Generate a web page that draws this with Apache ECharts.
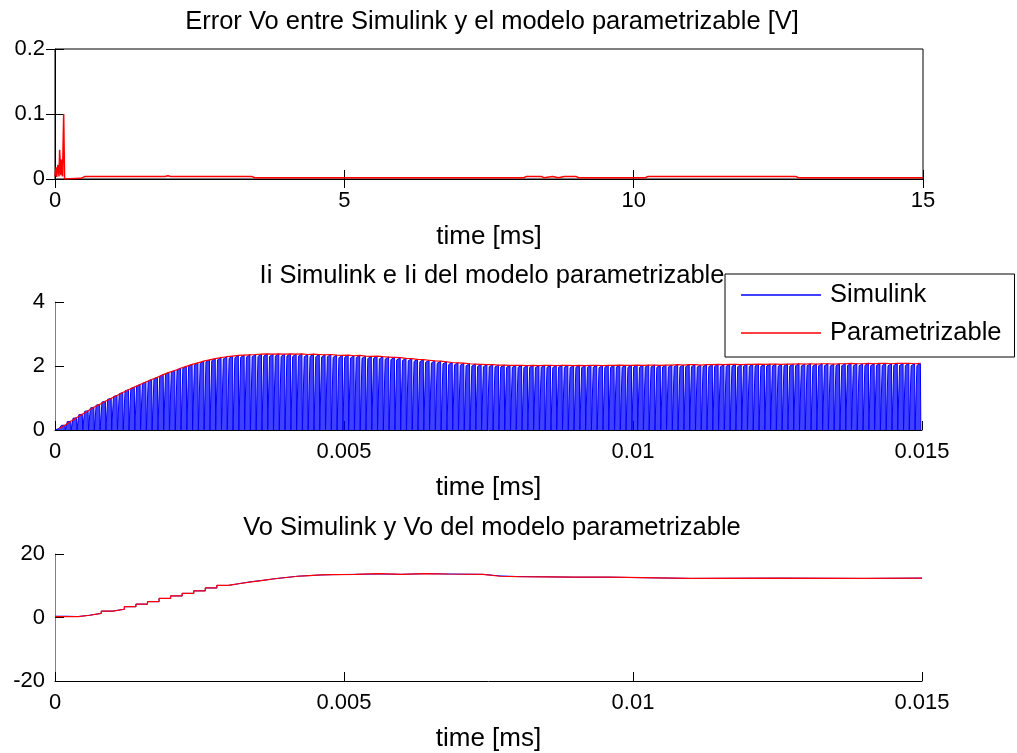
<!DOCTYPE html>
<html>
<head>
<meta charset="utf-8">
<script src="https://cdn.jsdelivr.net/npm/echarts@6/dist/echarts.min.js"></script>
<style>
  html, body { margin: 0; background: #fff; }
  #chart { width: 1017px; height: 753px; }
</style>
</head>
<body>
<div id="chart"></div>
<script>
// --- data ---

// panel 1: error Vo [V] vs time [ms]
const errTime = [0, 0.02, 0.03, 0.05, 0.07, 0.08, 0.10, 0.11, 0.13, 0.15,
  0.165, 0.18, 0.45, 0.52, 1.9, 1.95, 2.0, 3.4, 3.45, 8.1,
  8.15, 8.4, 8.45, 8.6, 8.7, 8.8, 9.0, 9.05, 9.1, 10.2,
  10.25, 12.8, 12.85, 15];
const errValue = [0.005, 0.018, 0.003, 0.022, 0.004, 0.045, 0.006, 0.03, 0.004, 0.1,
  0.0, 0.001, 0.001, 0.004, 0.004, 0.005, 0.004, 0.004, 0.002, 0.002,
  0.004, 0.004, 0.002, 0.004, 0.002, 0.004, 0.004, 0.002, 0.002, 0.002,
  0.004, 0.004, 0.002, 0.002];

// panel 2: inductor current, one peak per switching period
const iiPeriod = 0.0001;
const iiPeaks = [
  0.05, 0.15, 0.27, 0.38, 0.49, 0.60, 0.71, 0.80, 0.90, 0.99,
  1.08, 1.17, 1.26, 1.34, 1.42, 1.50, 1.58, 1.65, 1.73, 1.80,
  1.86, 1.93, 1.99, 2.05, 2.10, 2.15, 2.19, 2.23, 2.26, 2.29,
  2.31, 2.33, 2.34, 2.35, 2.36, 2.37, 2.38, 2.37, 2.38, 2.37,
  2.38, 2.37, 2.38, 2.36, 2.37, 2.36, 2.35, 2.36, 2.34, 2.33,
  2.34, 2.32, 2.33, 2.31, 2.30, 2.31, 2.29, 2.28, 2.27, 2.26,
  2.24, 2.23, 2.21, 2.20, 2.18, 2.16, 2.15, 2.13, 2.11, 2.10,
  2.09, 2.07, 2.06, 2.05, 2.04, 2.04, 2.03, 2.03, 2.02, 2.02,
  2.02, 2.01, 2.02, 2.01, 2.02, 2.02, 2.01, 2.02, 2.02, 2.01,
  2.02, 2.01, 2.02, 2.02, 2.01, 2.02, 2.02, 2.03, 2.02, 2.02,
  2.03, 2.02, 2.03, 2.03, 2.02, 2.03, 2.03, 2.04, 2.03, 2.04,
  2.04, 2.03, 2.04, 2.04, 2.05, 2.04, 2.05, 2.05, 2.04, 2.05,
  2.05, 2.06, 2.05, 2.06, 2.06, 2.05, 2.06, 2.06, 2.07, 2.06,
  2.07, 2.06, 2.07, 2.07, 2.06, 2.07, 2.07, 2.08, 2.07, 2.07,
  2.08, 2.07, 2.08, 2.08, 2.07, 2.08, 2.08, 2.08, 2.07, 2.08
];

// panel 3: output voltage
const voTime = [0, 0.0002, 0.0004, 0.0006, 0.0008, 0.0010, 0.0012, 0.0014, 0.0016, 0.0018,
  0.0020, 0.0022, 0.0024, 0.0026, 0.0028, 0.0030, 0.0032, 0.0034, 0.0036, 0.0038,
  0.0040, 0.0042, 0.0044, 0.0046, 0.0048, 0.0052, 0.0056, 0.0060, 0.0064, 0.0068,
  0.0074, 0.0077, 0.0080, 0.0090, 0.0096, 0.0110, 0.0125, 0.0140, 0.0150];
const voSim = [0.4, 0.3, 0.7, 1.3, 2.0, 2.6, 3.4, 4.2, 5.0, 6.0,
  6.8, 7.6, 8.4, 9.3, 10.1, 10.7, 11.3, 11.7, 12.2, 12.6,
  13.0, 13.2, 13.4, 13.5, 13.6, 13.7, 13.6, 13.8, 13.7, 13.6,
  13.1, 12.9, 12.7, 12.7, 12.3, 12.4, 12.3, 12.4, 12.3];
const voPar = [0.3, 0.3, 0.7, 1.3, 2.0, 2.6, 3.4, 4.2, 5.0, 6.0,
  6.8, 7.6, 8.4, 9.3, 10.1, 10.7, 11.2, 11.7, 12.2, 12.6,
  13.0, 13.2, 13.4, 13.5, 13.6, 13.8, 13.6, 13.8, 13.7, 13.6,
  13.0, 12.9, 12.7, 12.7, 12.3, 12.4, 12.3, 12.4, 12.3];

const titles = [
  'Error Vo entre Simulink y el modelo parametrizable [V]',
  'Ii Simulink e Ii del modelo parametrizable',
  'Vo Simulink y Vo del modelo parametrizable'
];
const legendNames = ['Simulink', 'Parametrizable'];

// --- build series data ---
const errData = errTime.map((t, i) => [t, errValue[i]]);
const iiSimData = [];
iiPeaks.forEach((p, k) => {
  const t0 = k * iiPeriod;
  iiSimData.push([t0, 0], [t0 + 0.12 * iiPeriod, p * 0.97], [t0 + 0.72 * iiPeriod, p], [t0 + 0.8 * iiPeriod, 0]);
});
const iiParData = iiPeaks.map((p, k) => [k * iiPeriod + 0.72 * iiPeriod, p]);
const voSimData = voTime.map((t, i) => [t, voSim[i]]);
const voParData = voTime.map((t, i) => [t, voPar[i]]);

const FONT = '"Liberation Sans", Arial, sans-serif';
const tickFont = { color: '#000', fontSize: 22, fontFamily: FONT };
const nameFont = { color: '#000', fontSize: 26, fontFamily: FONT };

const xAxisBase = (gridIndex, min, max, interval) => ({
  type: 'value', gridIndex, min, max, interval,
  name: 'time [ms]', nameLocation: 'middle', nameGap: 45,
  nameTextStyle: nameFont,
  axisLine: { show: true, onZero: false, lineStyle: { color: '#000', width: 1 } },
  axisTick: { show: true, inside: true, length: 9, lineStyle: { color: '#000' } },
  axisLabel: { ...tickFont, margin: 11 },
  splitLine: { show: false }
});
const yAxisBase = (gridIndex, min, max, interval, lineColor) => ({
  type: 'value', gridIndex, min, max, interval,
  axisLine: { show: true, onZero: false, lineStyle: { color: lineColor, width: 1 } },
  axisTick: { show: true, inside: true, length: 9, lineStyle: { color: '#000' } },
  axisLabel: { ...tickFont, margin: 10 },
  splitLine: { show: false }
});

const chart = echarts.init(document.getElementById('chart'), null, { renderer: 'canvas' });

chart.setOption({
  backgroundColor: '#fff',
  animation: false,
  title: titles.map((text, i) => ({
    text, left: 487, top: [4, 258, 510][i], textAlign: 'center',
    textStyle: { color: '#000', fontSize: 25.5, fontWeight: 'normal', fontFamily: FONT }
  })),
  legend: {
    data: legendNames,
    orient: 'vertical',
    left: 725, top: 274,
    padding: [6, 13, 9, 16],
    itemGap: 8,
    itemWidth: 80, itemHeight: 1.5,
    icon: 'rect',
    backgroundColor: '#fff',
    borderColor: '#000', borderWidth: 1, borderRadius: 0,
    textStyle: { color: '#000', fontSize: 25.5, fontFamily: FONT, lineHeight: 30, padding: [0, 0, 0, 4] }
  },
  grid: [
    { left: 55, top: 49, width: 868, height: 130, show: true, borderColor: '#000', borderWidth: 1, backgroundColor: 'transparent' },
    { left: 55, top: 302, width: 867, height: 128 },
    { left: 55, top: 554, width: 867, height: 127 }
  ],
  xAxis: [
    xAxisBase(0, 0, 15, 5),
    { type: 'value', gridIndex: 0, position: 'top', min: 0, max: 15, interval: 5,
      axisLine: { show: false }, axisLabel: { show: false }, splitLine: { show: false },
      axisTick: { show: true, inside: true, length: 9, lineStyle: { color: '#000' } } },
    xAxisBase(1, 0, 0.015, 0.005),
    xAxisBase(2, 0, 0.015, 0.005)
  ],
  yAxis: [
    yAxisBase(0, 0, 0.2, 0.1, '#000'),
    { type: 'value', gridIndex: 0, position: 'right', min: 0, max: 0.2, interval: 0.1,
      axisLine: { show: false }, axisLabel: { show: false }, splitLine: { show: false },
      axisTick: { show: true, inside: true, length: 9, lineStyle: { color: '#000' } } },
    yAxisBase(1, 0, 4, 2, '#808080'),
    yAxisBase(2, -20, 20, 20, '#808080')
  ],
  series: [
    { name: 'Error', type: 'line', xAxisIndex: 0, yAxisIndex: 0, data: errData,
      showSymbol: false, lineStyle: { color: '#ff0000', width: 1.5 } },
    { name: 'Simulink', type: 'line', xAxisIndex: 2, yAxisIndex: 2, data: iiSimData,
      showSymbol: false, color: '#0000ff', lineStyle: { color: '#0000ff', width: 1 },
      areaStyle: { color: '#0000ff', opacity: 0.75 } },
    { name: 'Parametrizable', type: 'line', xAxisIndex: 2, yAxisIndex: 2, data: iiParData,
      showSymbol: false, color: '#ff0000', lineStyle: { color: '#ff0000', width: 1.2 } },
    { name: 'Vo Simulink', type: 'line', xAxisIndex: 3, yAxisIndex: 3, data: voSimData, step: 'end',
      showSymbol: false, lineStyle: { color: '#0000ff', width: 1 } },
    { name: 'Vo Parametrizable', type: 'line', xAxisIndex: 3, yAxisIndex: 3, data: voParData, step: 'end',
      showSymbol: false, lineStyle: { color: '#ff0000', width: 1.2 } }
  ]
});
</script>
</body>
</html>
